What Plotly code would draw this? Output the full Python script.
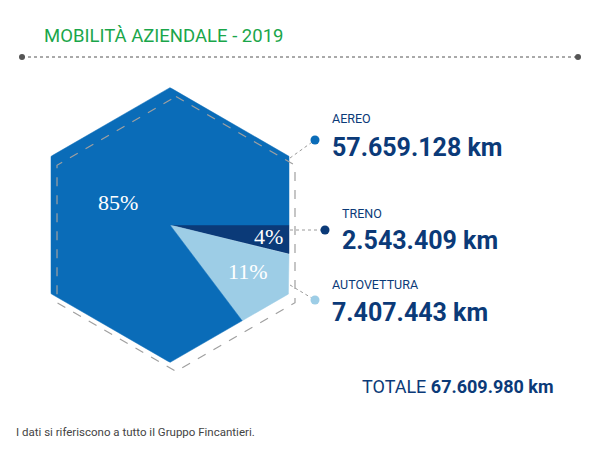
import numpy as np
import plotly.graph_objects as go

categories = ["TRENO", "AUTOVETTURA", "AEREO"]
km_values = [2543409, 7407443, 57659128]
km_labels = ["2.543.409 km", "7.407.443 km", "57.659.128 km"]
colors = ["#0b3a78", "#9dcde6", "#0a6cb8"]
total_label = "67.609.980 km"

# geometry in pixel-like coordinates
cx, cy = 170, 225
apothem = 119
R = apothem / np.cos(np.pi / 6)
NARROW = "Liberation Sans Narrow, Roboto"


def hex_r(theta):
    t = (np.degrees(theta) + 30) % 60 - 30
    return apothem / np.cos(np.radians(t))


fig = go.Figure()

total = sum(km_values)
start = 0.0
for cat, v, c in zip(categories, km_values, colors):
    span = v / total * 2 * np.pi
    th = np.linspace(start, start + span, 400)
    r = hex_r(th)
    xs = np.concatenate([[cx], cx + r * np.cos(th), [cx]])
    ys = np.concatenate([[cy], cy + r * np.sin(th), [cy]])
    fig.add_trace(go.Scatter(x=xs, y=ys, fill="toself", fillcolor=c, mode="lines",
                             line=dict(color=c, width=0.5), hoverinfo="skip"))
    start += span

# dashed outline hexagon, shifted, drawn over the fill
va = np.radians(np.arange(-90, 271, 60))
fig.add_trace(go.Scatter(x=cx + 6 + R * np.cos(va), y=cy + 9 + R * np.sin(va), mode="lines",
                         line=dict(color="#a0a0a0", width=1.2, dash="dash"), hoverinfo="skip"))

pct = [round(v / total * 100) for v in km_values]
pct_pos = [(268, 236), (248, 271), (118, 202)]
for p, (x, y) in zip(pct, pct_pos):
    fig.add_annotation(x=x, y=y, text=f"{p}%", showarrow=False,
                       font=dict(family="Liberation Serif", size=22, color="white"))

# callouts (same order as categories)
lines = [((290, 230), (325, 230)), ((290, 285), (315, 300)), ((290, 158), (315, 140))]
label_pos = [(340, 213, 240), (330, 284, 312), (330, 118, 147)]
for (p0, p1), c, cat, kl, (lx, ly1, ly2) in zip(lines, colors, categories, km_labels, label_pos):
    fig.add_trace(go.Scatter(x=[p0[0], p1[0]], y=[p0[1], p1[1]], mode="lines",
                             line=dict(color="#9a9a9a", width=1, dash="dot"), hoverinfo="skip"))
    fig.add_trace(go.Scatter(x=[p1[0]], y=[p1[1]], mode="markers",
                             marker=dict(color=c, size=9), hoverinfo="skip"))
    fig.add_annotation(x=lx, y=ly1, text=cat, showarrow=False, xanchor="left",
                       font=dict(family=NARROW, size=12.5, color="#0b3a78"))
    fig.add_annotation(x=lx, y=ly2, text=f"<b>{kl}</b>", showarrow=False, xanchor="left",
                       font=dict(family=NARROW, size=25, color="#0b3a78"))

fig.add_annotation(x=360, y=386, text=f"TOTALE <b>{total_label}</b>", showarrow=False, xanchor="left",
                   font=dict(family=NARROW, size=18, color="#0b3a78"))
fig.add_annotation(x=42, y=36, text="MOBILITÀ AZIENDALE - 2019", showarrow=False, xanchor="left",
                   font=dict(family=NARROW, size=18.5, color="#1aa64a"))
fig.add_annotation(x=14, y=432, text="I dati si riferiscono a tutto il Gruppo Fincantieri.", showarrow=False,
                   xanchor="left", font=dict(family="Roboto", size=11.5, color="#444444"))

# header rule
fig.add_trace(go.Scatter(x=[22, 578], y=[57, 57], mode="lines",
                         line=dict(color="#555555", width=1, dash="dot"), hoverinfo="skip"))
fig.add_trace(go.Scatter(x=[22, 578], y=[57, 57], mode="markers",
                         marker=dict(color="#555555", size=6), hoverinfo="skip"))

fig.update_layout(width=600, height=459, margin=dict(l=0, r=0, t=0, b=0), showlegend=False,
                  plot_bgcolor="white", paper_bgcolor="white",
                  xaxis=dict(range=[8, 608], visible=False),
                  yaxis=dict(range=[467, 8], visible=False))
fig.write_html("out.html")
